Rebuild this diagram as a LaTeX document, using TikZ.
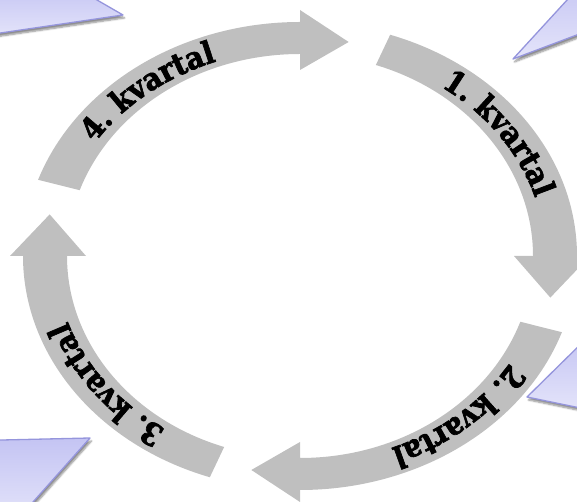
\documentclass[tikz,border=0pt]{standalone}
\usepackage{fontspec}
\newfontfamily\kvfont{DejaVu Serif Condensed Bold}[FakeBold=2.2]
\usetikzlibrary{decorations.text,shadows.blur}
\definecolor{ringgray}{HTML}{BFBFBF}
\definecolor{cofillA}{HTML}{C4C4F3}
\definecolor{cofillB}{HTML}{E4E4FA}
\definecolor{coedge}{HTML}{9595DC}
\begin{document}
\begin{tikzpicture}[x=1pt,y=1pt,
  ringarrow/.style={fill=ringgray},
  callout/.style={draw=coedge, line width=1.3pt, line join=round,
    top color=cofillA, bottom color=cofillB,
    blur shadow={shadow xshift=1.5pt, shadow yshift=-3pt, shadow blur steps=6, shadow opacity=45}},
  qlabel/.style={decorate, decoration={text along path, text align=center,
    text={|\kvfont\fontsize{31}{31}\selectfont|#1}}}
]
\useasboundingbox (0,0) rectangle (577,502);
\clip (0,0) rectangle (577,502);
% callout pointers
\path[callout] (123,487) -- (71,517) -- (-20,517) -- (-20,466) -- cycle;
\path[callout] (513,443) -- (590,527) -- (590,472) -- cycle;
\path[callout] (527,105) -- (590,167) -- (590,92) -- cycle;
\path[callout] (90,64) -- (-20,61.5) -- (-20,-18) -- (17,-18) -- cycle;
% ring arrows
\begin{scope}[shift={(300,246)}]
\coordinate (C) at (0,0);
% 4. kvartal (top-left)
\fill[ringarrow] (161:277 and 234) arc[start angle=161, end angle=90, x radius=277, y radius=234]
  -- (90:290 and 246) -- (79:255 and 218) -- (90:214 and 186) -- (90:233 and 202)
  arc[start angle=90, end angle=161, x radius=233, y radius=202] -- cycle;
\path[qlabel={4. kvartal}] (165:245 and 207) arc[start angle=165, end angle=94, x radius=245, y radius=207];
% 1. kvartal (top-right)
\fill[ringarrow] (71:277 and 234) arc[start angle=71, end angle=0, x radius=277, y radius=234]
  -- (0:290 and 246) -- (-11:255 and 218) -- (0:214 and 186) -- (0:233 and 202)
  arc[start angle=0, end angle=71, x radius=233, y radius=202] -- cycle;
\path[qlabel={1. kvartal}] (70:245 and 207) arc[start angle=70, end angle=-1, x radius=245, y radius=207];
% 2. kvartal (bottom-right)
\fill[ringarrow] (-19:277 and 234) arc[start angle=-19, end angle=-90, x radius=277, y radius=234]
  -- (-90:290 and 246) -- (-101:255 and 218) -- (-90:214 and 186) -- (-90:233 and 202)
  arc[start angle=-90, end angle=-19, x radius=233, y radius=202] -- cycle;
\path[qlabel={2. kvartal}] (-13:245 and 207) arc[start angle=-13, end angle=-84, x radius=245, y radius=207];
% 3. kvartal (bottom-left)
\fill[ringarrow] (251:277 and 234) arc[start angle=251, end angle=180, x radius=277, y radius=234]
  -- (180:290 and 246) -- (169:255 and 218) -- (180:214 and 186) -- (180:233 and 202)
  arc[start angle=180, end angle=251, x radius=233, y radius=202] -- cycle;
\path[qlabel={3. kvartal}] (252:245 and 207) arc[start angle=252, end angle=181, x radius=245, y radius=207];
\end{scope}
\end{tikzpicture}
\end{document}
